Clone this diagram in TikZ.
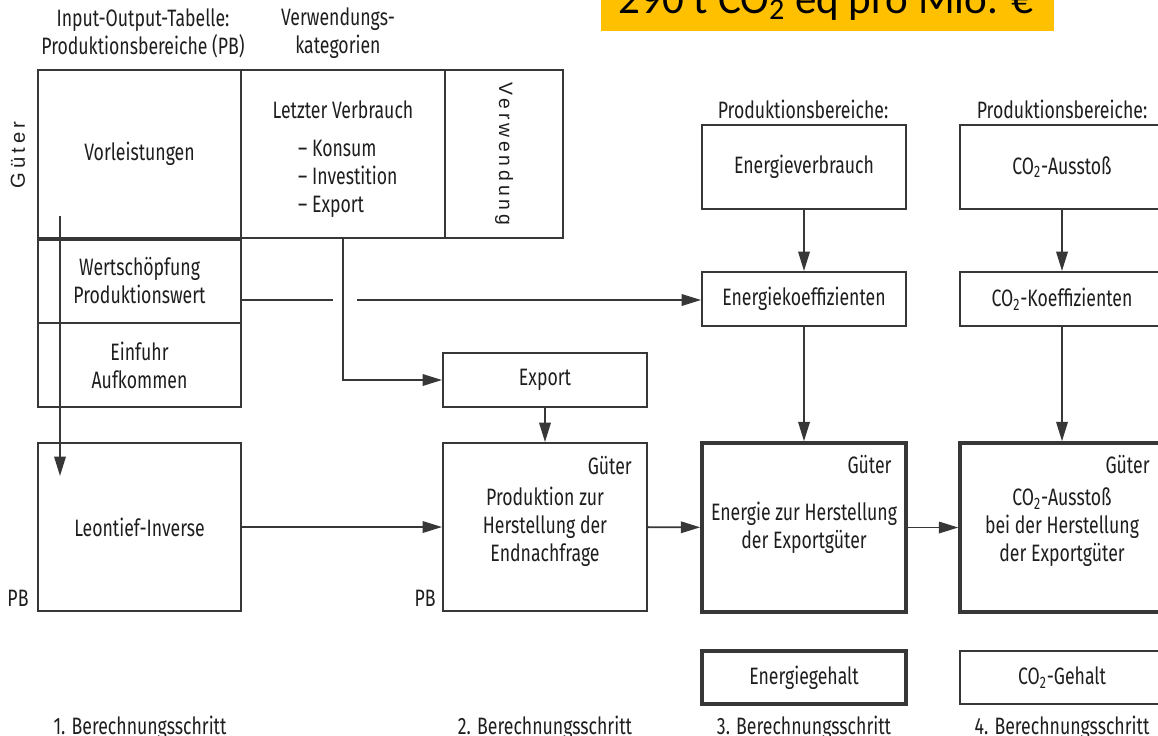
\documentclass[tikz,border=0pt]{standalone}
\usepackage{fontspec}
\setmainfont{Fira Sans}[FakeStretch=0.745]
\newfontfamily\calibrifont{Carlito}
\newfontfamily\spacedfont{Liberation Sans}[LetterSpace=20]
\usepackage{tikz}
\usetikzlibrary{arrows.meta,positioning}
\usepackage{xcolor}
\definecolor{lineg}{RGB}{55,55,55}
\definecolor{txtg}{RGB}{30,30,30}
\definecolor{hlyellow}{RGB}{255,192,0}
\tikzstyle{box} = [draw=lineg, line width=1.1pt, inner sep=0pt, align=center]
\tikzstyle{boldbox} = [box, line width=2pt]
\tikzstyle{plain} = [line width=1.1pt, draw=lineg]
\tikzstyle{flowarrow} = [plain, -{Triangle[length=11pt,width=6.5pt]}]

\begin{document}
\begin{tikzpicture}[x=0.02cm, y=-0.02cm, font=\fontsize{13.5}{16}\selectfont, text=txtg]
\clip (0,0) rectangle (1158,735);
\useasboundingbox (0,0) rectangle (1158,735);

% Highlighted result
\node[fill=hlyellow, minimum width=9.06cm, minimum height=1.22cm] (note) at (827.5,0.5) {};
\node[anchor=base, font=\calibrifont\fontsize{24.5}{28}\selectfont, text=black] (notetext) at (826,13) {290 t CO\textsubscript{2} eq pro Mio. €};

% Input-output table
\node[align=center] (iotab) at (143,33) {Input-Output-Tabelle:\\Produktionsbereiche (PB)};
\node[align=center] (verwkat) at (338,33) {Verwendungs-\\kategorien};
\node[box, minimum width=4.06cm, minimum height=3.36cm] (vorl) at (139.5,154) {Vorleistungen};
\node[box, minimum width=4.08cm, minimum height=3.36cm] (letzt) at (343,154) {};
\node[box, minimum width=2.36cm, minimum height=3.36cm] (verw) at (504,154) {};
\node[box, minimum width=4.06cm, minimum height=1.7cm] (wert) at (139.5,280.5) {Wertschöpfung\\Produktionswert};
\node[box, minimum width=4.06cm, minimum height=1.68cm] (einf) at (139.5,365) {Einfuhr\\Aufkommen};
\draw[line width=2pt, lineg] (vorl.south west) -- (vorl.south east);
\node (letzttitle) at (343,110) {Letzter Verbrauch};
\node[anchor=north west, align=left] (letztlist) at (292,134) {– Konsum\\– Investition\\– Export};
\node[rotate=-90, font=\spacedfont\fontsize{11}{13}\selectfont] (verwtext) at (verw.center) {Verwendung};
\node[rotate=90, font=\spacedfont\fontsize{11.5}{13}\selectfont] (gueterside) at (18,155) {Güter};

% Calculation steps
\node[box, minimum width=4.06cm, minimum height=3.36cm] (leon) at (139.5,527) {Leontief-Inverse};
\node[box, minimum width=4.08cm, minimum height=1.08cm] (export) at (545,380) {Export};
\node[box, minimum width=4.08cm, minimum height=3.36cm] (prod) at (545,527) {Produktion zur\\Herstellung der\\Endnachfrage};
\node[boldbox, minimum width=4.08cm, minimum height=3.38cm] (energ) at (804,527.5) {Energie zur Herstellung\\der Exportgüter};
\node[boldbox, minimum width=4.08cm, minimum height=3.38cm] (co2) at (1062,527.5) {CO\textsubscript{2}-Ausstoß\\bei der Herstellung\\der Exportgüter};
\node[box, minimum width=4.08cm, minimum height=1.68cm] (everb) at (804,167) {Energieverbrauch};
\node[box, minimum width=4.08cm, minimum height=1.68cm] (co2aus) at (1062,167) {CO\textsubscript{2}-Ausstoß};
\node[box, minimum width=4.08cm, minimum height=1.08cm] (ekoef) at (804,299) {Energiekoeffizienten};
\node[box, minimum width=4.08cm, minimum height=1.08cm] (co2koef) at (1062,299) {CO\textsubscript{2}-Koeffizienten};
\node[boldbox, minimum width=4.08cm, minimum height=1.06cm] (egeh) at (804,677.5) {Energiegehalt};
\node[boldbox, line width=1.6pt, minimum width=4.08cm, minimum height=1.06cm] (co2geh) at (1062,677.5) {CO\textsubscript{2}-Gehalt};

% Side labels
\node (pbleft) at (18,598) {PB};
\node (pbmid) at (425,598) {PB};
\node[anchor=north east] (gprod) at ([xshift=-0.2cm,yshift=-0.16cm]prod.north east) {Güter};
\node[anchor=north east] (generg) at ([xshift=-0.2cm,yshift=-0.16cm]energ.north east) {Güter};
\node[anchor=north east] (gco2) at ([xshift=-0.2cm,yshift=-0.16cm]co2.north east) {Güter};
\node (pbhead1) at (803,109) {Produktionsbereiche:};
\node (pbhead2) at (1062,109) {Produktionsbereiche:};

% Step labels
\node (step1) at (140,728) {1. Berechnungsschritt};
\node (step2) at (545,728) {2. Berechnungsschritt};
\node (step3) at (804,728) {3. Berechnungsschritt};
\node (step4) at (1062,728) {4. Berechnungsschritt};

% Connectors
\coordinate (iostart) at (60,216);
\coordinate (iotip) at (60,476);
\coordinate (gapl) at (333,300);
\coordinate (gapr) at (357,300);
\draw[flowarrow] (iostart) -- (iotip);
\draw[plain] (wert.east |- gapl) -- (gapl);
\draw[flowarrow] (gapr) -- (ekoef.west |- gapr);
\draw[flowarrow] (letzt.south) |- (export.west);
\draw[flowarrow] (export) -- (prod);
\draw[flowarrow] (leon) -- (prod);
\draw[flowarrow] (prod) -- (energ);
\draw[flowarrow] (energ) -- (co2);
\draw[flowarrow] (everb) -- (ekoef);
\draw[flowarrow] (ekoef) -- (energ);
\draw[flowarrow] (co2aus) -- (co2koef);
\draw[flowarrow] (co2koef) -- (co2);
\end{tikzpicture}
\end{document}
